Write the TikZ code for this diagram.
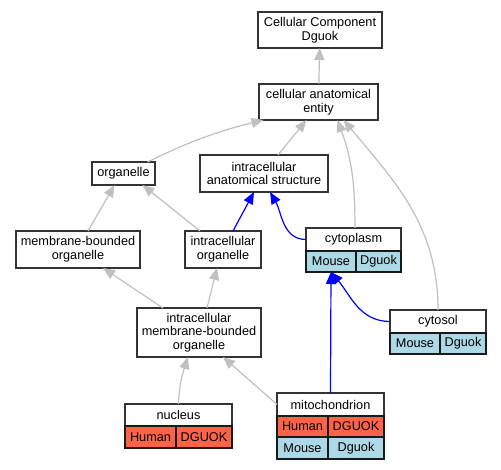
\documentclass[tikz,border=0pt]{standalone}
\usepackage{fontspec}
\setmainfont{Liberation Sans}
\usepackage{xcolor}
\usetikzlibrary{shapes, arrows.meta, positioning}
\definecolor{humanred}{HTML}{FF6347}
\definecolor{mouseblue}{HTML}{ADD8E6}
\definecolor{edgegray}{HTML}{C0C0C0}
\newcommand{\termfont}{\fontsize{12.7}{13.6}\selectfont}
\tikzstyle{term} = [rectangle, align=center, inner sep=0pt, outer sep=0pt, draw=black!80, line width=1.3pt, fill=white, font=\termfont]
\tikzstyle{cell} = [rectangle, inner sep=0pt, outer sep=0pt, draw=black!90, line width=1.1pt, text centered, font=\termfont]
\tikzstyle{humanrow} = [cell, fill=humanred, minimum height=21pt]
\tikzstyle{mouserow} = [cell, fill=mouseblue, minimum height=21pt]
\tikzstyle{isa} = [draw=edgegray, line width=1.2pt, -{Triangle[length=12pt, width=10pt]}]
\tikzstyle{partof} = [draw=blue, line width=1.2pt, -{Triangle[length=12pt, width=10pt]}]

\begin{document}
\begin{tikzpicture}[x=1pt, y=-1pt]
        \useasboundingbox (0,0) rectangle (501,469);
        \node (cc) [term, minimum width=124pt, minimum height=36pt] at (320,30) {Cellular Component\\Dguok};
        \node (ent) [term, minimum width=119pt, minimum height=36pt] at (318.5,102) {cellular anatomical\\entity};
        \node (org) [term, minimum width=63pt, minimum height=23pt] at (123.5,173.5) {organelle};
        \node (ias) [term, minimum width=128pt, minimum height=37pt] at (264,173.5) {intracellular\\anatomical structure};
        \node (mbo) [term, minimum width=124pt, minimum height=37pt] at (78,249.5) {membrane-bounded\\organelle};
        \node (io) [term, minimum width=76pt, minimum height=37pt] at (223,249.5) {intracellular\\organelle};
        \node (imbo) [term, minimum width=124pt, minimum height=49pt] at (199,332.5) {intracellular\\membrane-bounded\\organelle};
        % Annotated terms: title on top, one row per species below
        \node (cyto) [term, minimum width=95pt, minimum height=23pt] at (353.5,239.5) {cytoplasm};
        \node (cytoMm) [mouserow, minimum width=50pt, below right=0pt and 0pt of cyto.south west] {Mouse};
        \node (cytoMg) [mouserow, minimum width=45pt, right=0pt of cytoMm] {Dguok};
        \node (cytosol) [term, minimum width=96pt, minimum height=23pt] at (438,321.5) {cytosol};
        \node (cytosolMm) [mouserow, minimum width=50pt, below right=0pt and 0pt of cytosol.south west] {Mouse};
        \node (cytosolMg) [mouserow, minimum width=46pt, right=0pt of cytosolMm] {Dguok};
        \node (nuc) [term, minimum width=107pt, minimum height=22pt] at (178.5,415) {nucleus};
        \node (nucHs) [humanrow, minimum width=51pt, minimum height=22pt, below right=0pt and 0pt of nuc.south west] {Human};
        \node (nucHg) [humanrow, minimum width=56pt, minimum height=22pt, right=0pt of nucHs] {DGUOK};
        \node (mito) [term, minimum width=107pt, minimum height=23pt] at (330.5,404.5) {mitochondrion};
        \node (mitoHs) [humanrow, minimum width=51pt, below right=0pt and 0pt of mito.south west] {Human};
        \node (mitoHg) [humanrow, minimum width=56pt, right=0pt of mitoHs] {DGUOK};
        \node (mitoMm) [mouserow, minimum width=51pt, minimum height=22pt, below=0pt of mitoHs] {Mouse};
        \node (mitoMg) [mouserow, minimum width=56pt, minimum height=22pt, right=0pt of mitoMm] {Dguok};
        % is_a edges (grey)
        \draw [isa] (ent) -- (cc);
        \draw [isa] ([xshift=24pt]org.north) to[bend left=6] ([xshift=-55pt]ent.south);
        \draw [isa] ([xshift=14pt]ias.north) -- ([xshift=-12pt]ent.south);
        \draw [isa] ([xshift=1.5pt]cyto.north) to[out=90, in=-70] ([xshift=19pt]ent.south);
        \draw [isa] (cytosol.north) to[out=90, in=-50] ([xshift=25pt]ent.south);
        \draw [isa] ([xshift=10pt]mbo.north) -- ([xshift=-9pt]org.south);
        \draw [isa] ([xshift=-23pt]io.north) -- ([xshift=19pt]org.south);
        \draw [isa] ([xshift=-36pt]imbo.north) -- ([xshift=25pt]mbo.south);
        \draw [isa] ([xshift=8pt]imbo.north) -- ([xshift=-6pt]io.south);
        \draw [isa] (nuc.north) to[out=88, in=-108] ([xshift=-11pt]imbo.south);
        \draw [isa] (mito.west) -- ([xshift=24pt]imbo.south);
        % part_of edges (blue)
        \draw [partof] ([xshift=10pt]io.north) -- ([xshift=-10pt]ias.south);
        \draw [partof] (cyto.west) to[out=180, in=-60] ([xshift=6pt]ias.south);
        \draw [partof] (mito.north) -- (cytoMm.south);
        \draw [partof] (cytosol.west) to[out=180, in=-50] (cytoMm.south);
    \end{tikzpicture}
\end{document}
